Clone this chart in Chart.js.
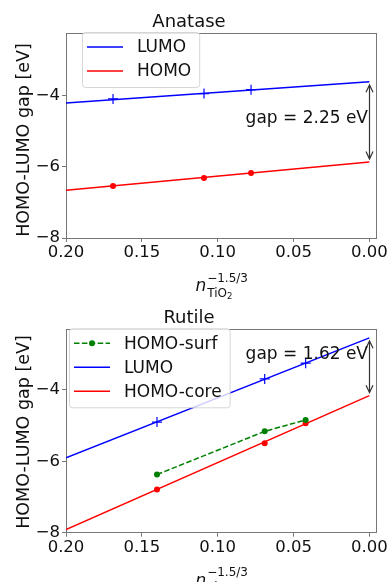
<!DOCTYPE html>
<html>
<head>
<meta charset="utf-8">
<script src="https://cdn.jsdelivr.net/npm/chart.js@4.4.0/dist/chart.umd.min.js"></script>
<style>
  body { margin: 0; background: #fff; }
  canvas { display: block; }
</style>
</head>
<body>
<canvas id="anatase" width="389" height="300"></canvas>
<canvas id="rutile" width="389" height="282"></canvas>
<script>
// x positions of the two ends of each fitted line
const fitX = [0.2, 0];

// Anatase
const anataseX = [0.169, 0.109, 0.078];
const anataseLumo = [-4.10, -3.95, -3.84];
const anataseHomo = [-6.54, -6.32, -6.18];
const anataseLumoFit = [-4.21, -3.62];
const anataseHomoFit = [-6.66, -5.87];

// Rutile
const rutileX = [0.140, 0.069, 0.042];
const rutileSurf = [-6.37, -5.16, -4.84];
const rutileLumo = [-4.90, -3.69, -3.25];
const rutileCore = [-6.79, -5.49, -4.93];
const rutileLumoFit = [-5.90, -2.54];
const rutileCoreFit = [-7.91, -4.16];

// Tick labels
const xTicks = [0.20, 0.15, 0.10, 0.05, 0.00];
const yTicks = [-8, -6, -4];

const FONT = '"DejaVu Sans", sans-serif';
const pts = (xs, ys) => xs.map((x, i) => ({ x: x, y: ys[i] }));

// frame, axis titles, gap arrow and the legend box
const decor = {
  id: "decor",
  beforeDatasetsDraw(chart) {
    const a = chart.chartArea, ctx = chart.ctx;
    ctx.save();
    ctx.strokeStyle = "#777";
    ctx.lineWidth = 1;
    ctx.strokeRect(Math.round(a.left) + 0.5, Math.round(a.top) + 0.5,
      Math.round(a.right - a.left) - 1, Math.round(a.bottom - a.top));
    ctx.restore();
  },
  afterDatasetsDraw(chart, args, o) {
    const a = chart.chartArea, ctx = chart.ctx;
    const xs = chart.scales.x, ys = chart.scales.y;
    ctx.save();
    ctx.fillStyle = "#111";

    // y axis title
    ctx.save();
    ctx.translate(28.5, o.labelY);
    ctx.rotate(-Math.PI / 2);
    ctx.font = "17.5px " + FONT;
    ctx.textAlign = "center";
    ctx.textBaseline = "alphabetic";
    ctx.fillText("HOMO-LUMO gap [eV]", 0, 0);
    ctx.restore();

    // x axis title: n_TiO2^(-1.5/3)
    ctx.textBaseline = "alphabetic";
    ctx.textAlign = "left";
    ctx.font = "italic 17px " + FONT;
    const nW = ctx.measureText("n").width;
    ctx.font = "12px " + FONT;
    const supW = ctx.measureText("\u22121.5/3").width;
    const tioW = ctx.measureText("TiO").width;
    ctx.font = "8.5px " + FONT;
    const twoW = ctx.measureText("2").width;
    const total = nW + 1 + Math.max(supW, tioW + twoW);
    const x0 = (a.left + a.right) / 2 - total / 2;
    ctx.font = "italic 17px " + FONT;
    ctx.fillText("n", x0, a.bottom + 53);
    ctx.font = "12px " + FONT;
    ctx.fillText("\u22121.5/3", x0 + nW + 1, a.bottom + 43.5);
    ctx.fillText("TiO", x0 + nW + 1, a.bottom + 58.5);
    ctx.font = "8.5px " + FONT;
    ctx.fillText("2", x0 + nW + 1 + tioW, a.bottom + 61);

    // gap arrow
    const g = o.gap;
    const px = Math.round(xs.getPixelForValue(0)) + 0.5;
    const y1 = ys.getPixelForValue(g.hi) + 3;
    const y2 = ys.getPixelForValue(g.lo) - 3;
    ctx.strokeStyle = "#333";
    ctx.lineWidth = 1.2;
    ctx.beginPath();
    ctx.moveTo(px, y1);
    ctx.lineTo(px, y2);
    ctx.moveTo(px - 3.5, y1 + 7.5);
    ctx.lineTo(px, y1);
    ctx.lineTo(px + 3.5, y1 + 7.5);
    ctx.moveTo(px - 3.5, y2 - 7.5);
    ctx.lineTo(px, y2);
    ctx.lineTo(px + 3.5, y2 - 7.5);
    ctx.stroke();
    ctx.font = "17px " + FONT;
    ctx.textAlign = "right";
    ctx.fillText(g.text, px - 1.5, ys.getPixelForValue(g.ty));

    // legend
    const items = chart.data.datasets.filter(d => d.inLegend);
    ctx.font = "17px " + FONT;
    const tw = Math.max(...items.map(d => ctx.measureText(d.label).width));
    const lx = a.left + o.legendDx, ly = a.top + o.legendDy;
    const lw = tw + 63, lh = 7 + items.length * 24;
    ctx.fillStyle = "rgba(255,255,255,0.8)";
    ctx.strokeStyle = "rgba(204,204,204,0.8)";
    ctx.lineWidth = 1;
    ctx.beginPath();
    ctx.roundRect(lx + 0.5, ly + 0.5, lw, lh, 3);
    ctx.fill();
    ctx.stroke();
    items.forEach((d, i) => {
      const y = ly + 15 + i * 24;
      ctx.strokeStyle = d.borderColor;
      ctx.lineWidth = 1.5;
      ctx.setLineDash(d.borderDash || []);
      ctx.beginPath();
      ctx.moveTo(lx + 5, y);
      ctx.lineTo(lx + 41, y);
      ctx.stroke();
      ctx.setLineDash([]);
      if (d.legendDot) {
        ctx.fillStyle = d.borderColor;
        ctx.beginPath();
        ctx.arc(lx + 23, y, 3, 0, Math.PI * 2);
        ctx.fill();
      }
      ctx.fillStyle = "#111";
      ctx.textAlign = "left";
      ctx.textBaseline = "middle";
      ctx.fillText(d.label, lx + 55, y + 1);
    });
    ctx.restore();
  }
};

function makeOptions(title, titlePad, yMax, xHeight, extra) {
  return {
    responsive: false,
    animation: false,
    layout: { padding: { left: 0, right: 11, top: 0, bottom: 0 } },
    plugins: {
      legend: { display: false },
      tooltip: { enabled: false },
      title: {
        display: true,
        text: title,
        color: "#111",
        font: { family: FONT, size: 18, weight: "normal" },
        padding: { top: titlePad, bottom: 0.2 }
      },
      decor: extra
    },
    scales: {
      x: {
        type: "linear",
        reverse: true,
        min: -0.0053,
        max: 0.2,
        afterBuildTicks: s => { s.ticks = xTicks.map(v => ({ value: v })); },
        afterFit: s => { s.height = xHeight; },
        border: { display: false },
        grid: { display: true, drawOnChartArea: false, drawTicks: true, tickLength: 4, color: "#777" },
        ticks: {
          color: "#111",
          padding: 1,
          maxRotation: 0,
          font: { family: FONT, size: 16.5 },
          callback: v => Number(v).toFixed(2)
        }
      },
      y: {
        type: "linear",
        min: -8,
        max: yMax,
        afterBuildTicks: s => { s.ticks = yTicks.map(v => ({ value: v })); },
        afterFit: s => { s.width = 66; },
        border: { display: false },
        grid: { display: true, drawOnChartArea: false, drawTicks: true, tickLength: 4, color: "#777" },
        ticks: {
          color: "#111",
          padding: 2,
          font: { family: FONT, size: 16.5 },
          callback: v => String(v).replace("-", "\u2212")
        }
      }
    }
  };
}

new Chart(document.getElementById("anatase"), {
  type: "scatter",
  plugins: [decor],
  data: {
    datasets: [
      { label: "LUMO", inLegend: true, data: pts(fitX, anataseLumoFit), showLine: true,
        borderColor: "#0000ff", borderWidth: 1.5, pointRadius: 0 },
      { label: "HOMO", inLegend: true, data: pts(fitX, anataseHomoFit), showLine: true,
        borderColor: "#ff0000", borderWidth: 1.5, pointRadius: 0 },
      { label: "LUMO points", data: pts(anataseX, anataseLumo), pointStyle: "cross",
        pointRadius: 5, borderColor: "#0000ff", borderWidth: 1.2 },
      { label: "HOMO points", data: pts(anataseX, anataseHomo), pointStyle: "circle",
        pointRadius: 3, backgroundColor: "#ff0000", borderColor: "#ff0000", borderWidth: 0 }
    ]
  },
  options: makeOptions("Anatase", 11.2, -2.25, 62, {
    labelY: 140,
    legendDx: 16,
    legendDy: -1,
    gap: { hi: anataseLumoFit[1], lo: anataseHomoFit[1], text: "gap = 2.25 eV", ty: -4.78 }
  })
});

new Chart(document.getElementById("rutile"), {
  type: "scatter",
  plugins: [decor],
  data: {
    datasets: [
      { label: "HOMO-surf", inLegend: true, legendDot: true, data: pts(rutileX, rutileSurf),
        showLine: true, borderDash: [5.5, 2.4], borderColor: "#008000", borderWidth: 1.5,
        pointRadius: 3, backgroundColor: "#008000", pointBorderWidth: 0 },
      { label: "LUMO", inLegend: true, data: pts(fitX, rutileLumoFit), showLine: true,
        borderColor: "#0000ff", borderWidth: 1.5, pointRadius: 0 },
      { label: "HOMO-core", inLegend: true, data: pts(fitX, rutileCoreFit), showLine: true,
        borderColor: "#ff0000", borderWidth: 1.5, pointRadius: 0 },
      { label: "LUMO points", data: pts(rutileX, rutileLumo), pointStyle: "cross",
        pointRadius: 5, borderColor: "#0000ff", borderWidth: 1.2 },
      { label: "HOMO-core points", data: pts(rutileX, rutileCore), pointStyle: "circle",
        pointRadius: 3, backgroundColor: "#ff0000", borderColor: "#ff0000", borderWidth: 0 }
    ]
  },
  options: makeOptions("Rutile", 7.5, -2.30, 49.3, {
    labelY: 132,
    legendDx: 3,
    legendDy: -1,
    gap: { hi: rutileLumoFit[1], lo: rutileCoreFit[1], text: "gap = 1.62 eV", ty: -3.14 }
  })
});
</script>
</body>
</html>
